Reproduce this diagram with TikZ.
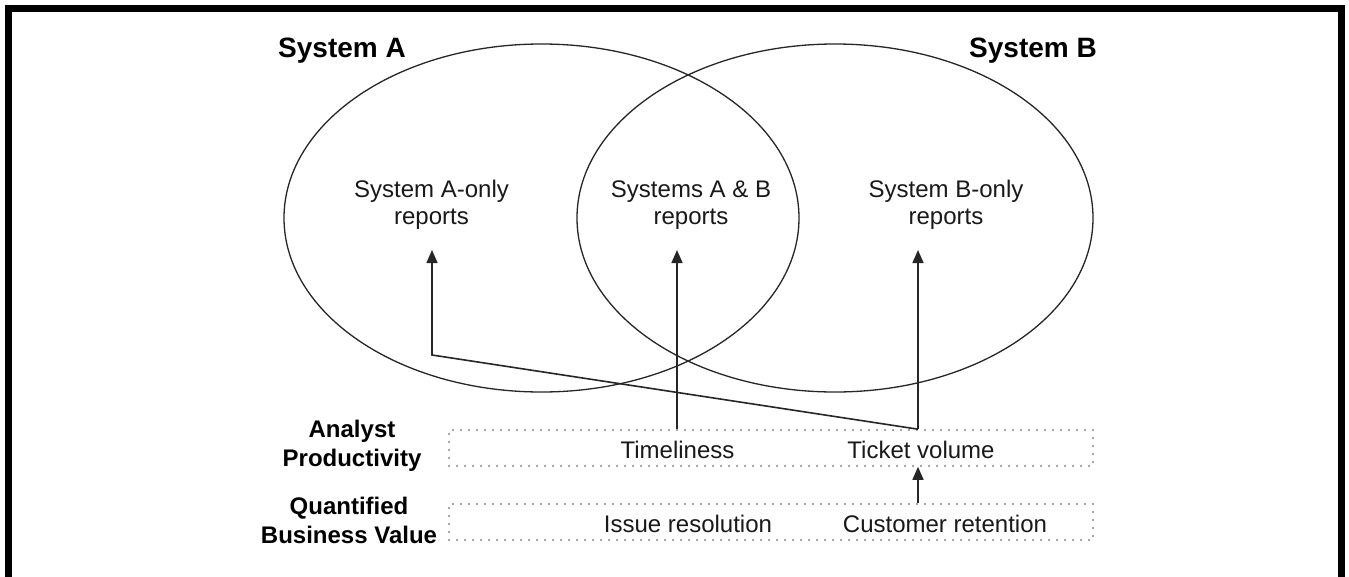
\documentclass[tikz,border=0pt]{standalone}
\usepackage{fontspec}
\setmainfont{Liberation Sans}
\usetikzlibrary{arrows.meta}
\begin{document}
\begin{tikzpicture}[x=1pt,y=-1pt,
  body/.style={font=\fontsize{24pt}{27.5pt}\selectfont, align=center, inner sep=0pt, text=black!90},
  lbl/.style={font=\fontsize{24pt}{29pt}\selectfont\bfseries, align=center, inner sep=0pt},
  ttl/.style={font=\fontsize{28pt}{34pt}\selectfont\bfseries, inner sep=0pt},
  venn/.style={line width=1.3pt, draw=black!85},
  arr/.style={line width=1.6pt, draw=black!85, -{Triangle[length=13pt,width=11pt]}},
  dotbox/.style={draw=black!70, line width=1.6pt, dash pattern=on 0pt off 8pt, line cap=round, minimum width=644pt, minimum height=36pt, inner sep=0pt},
  frame/.style={line width=7pt, line join=miter}]
\useasboundingbox (0,0) rectangle (1349,576);
\fill[white] (0,0) rectangle (1349,576);
\draw[frame] (8.5,580) -- (8.5,8) -- (1341.5,8) -- (1341.5,580);
% Venn ellipses
\draw[venn] (541.5,218) ellipse [x radius=257.5pt, y radius=174pt];
\draw[venn] (835,218) ellipse [x radius=258pt, y radius=174pt];
% titles
\node[ttl, anchor=base west] (ta) at (278,57) {System A};
\node[ttl, anchor=base east] (tb) at (1097,57) {System B};
% region labels
\node[body] (aonly) at (431.5,205) {System A-only\\reports};
\node[body] (ab) at (691,205) {Systems A \& B\\reports};
\node[body] (bonly) at (946,205) {System B-only\\reports};
% dotted boxes
\node[dotbox] (apbox) at (771,448) {};
\node[dotbox] (qbbox) at (771,522) {};
\node[lbl] (ap) at (352,446) {Analyst\\Productivity};
\node[lbl] (qbv) at (349,520) {Quantified\\Business Value};
\node[body] (time) at (677.5,450) {Timeliness};
\node[body] (tick) at (921,450) {Ticket volume};
\node[body] (issue) at (688,524) {Issue resolution};
\node[body] (cust) at (945,524) {Customer retention};
% connector points
\coordinate (tvtop) at (apbox.north -| 918,0);
\coordinate (tltop) at (apbox.north -| 677,0);
\coordinate (tvbot) at (apbox.south -| 918,0);
\coordinate (cutop) at (qbbox.north -| 918,0);
\coordinate (bend) at (432,355);
\coordinate (tipA) at (432,250);
\coordinate (tipAB) at (677,250);
\coordinate (tipB) at (918,250);
% connectors
\draw[arr] (tvtop) -- (tipB);
\draw[arr] (tvtop) -- (bend) -- (tipA);
\draw[arr] (tltop) -- (tipAB);
\draw[arr] (cutop) -- (tvbot);
\end{tikzpicture}
\end{document}
